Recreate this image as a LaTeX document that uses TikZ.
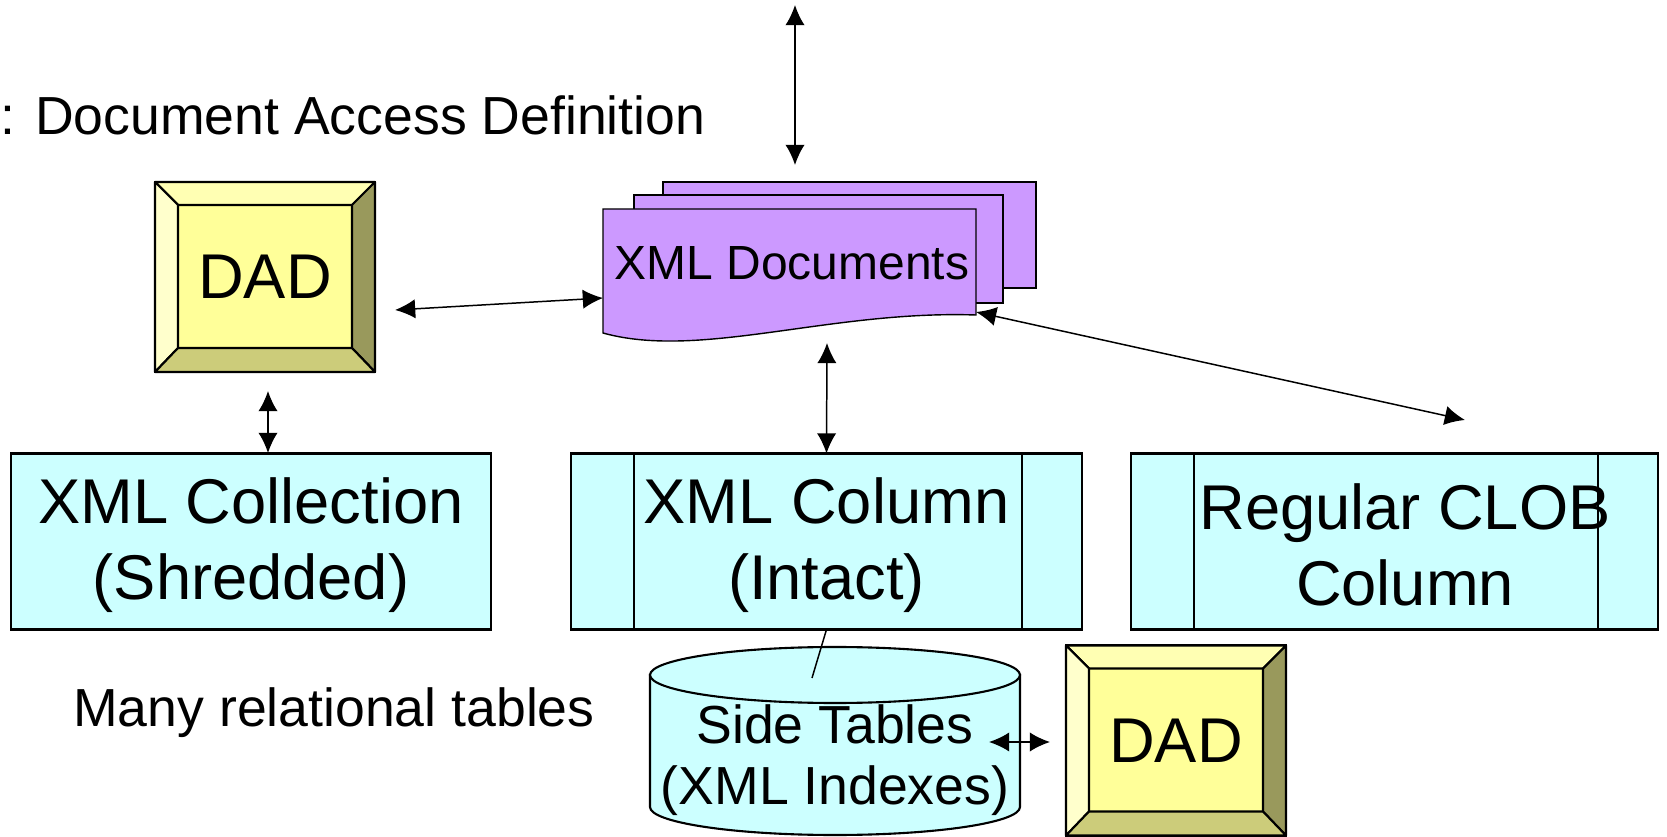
\documentclass[tikz,border=0pt]{standalone}
\usepackage{fontspec}
\setmainfont{Liberation Sans}
\usetikzlibrary{arrows.meta}
\tikzset{>={Latex[length=11.5pt,width=11pt]}}

\definecolor{dadface}{HTML}{FFFF99}
\definecolor{dadtop}{HTML}{FFFFB3}
\definecolor{dadleft}{HTML}{FFFFCC}
\definecolor{dadbottom}{HTML}{CCCC7A}
\definecolor{dadright}{HTML}{99995C}
\definecolor{storefill}{HTML}{CCFFFF}
\definecolor{docfill}{HTML}{CC99FF}

\begin{document}
\begin{tikzpicture}[x=0.02cm, y=-0.02cm]
	\tikzstyle{dad} = [draw=black, line width=1.2pt, fill=dadface, minimum width=4.4cm, minimum height=3.8cm, outer sep=0pt, font=\fontsize{36}{43}\selectfont]
	\tikzstyle{store} = [draw=black, line width=1.2pt, fill=storefill, minimum height=3.52cm, outer sep=0pt]
	\tikzstyle{storetext} = [align=center, font=\fontsize{36}{43}\selectfont]
	\tikzstyle{page} = [draw=black, line width=0.8pt, fill=docfill]
	\tikzstyle{note} = [inner sep=0pt, font=\fontsize{30.5}{35}\selectfont]
	\tikzstyle{edge} = [<->, line width=0.85pt]

	\useasboundingbox (0,0) rectangle (1667,837);

%----------DAD and the XML documents------------------------------
	\node[note, anchor=base west] (daddef) at (0,135) {: Document Access Definition};

	\node[dad] (dad1) at (265,277) {DAD};

	\draw[page] (663,182) rectangle (1036,288);
	\draw[page] (634,195) rectangle (1003,303);
	\draw[page] (603,209) -- (976,209) -- (976,315)
		.. controls (830,310) and (700,360) .. (603,333) -- cycle;
	\node[anchor=base, inner sep=0pt, font=\fontsize{27.3}{32}\selectfont] (docs) at (792,280) {XML Documents};

	\coordinate (topend) at (795,5);
	\coordinate (docsN) at (795,165);
	\coordinate (docsW) at (603,298);
	\coordinate (docsE) at (976,312);
	\coordinate (docsS) at (827,343);
	\coordinate (dad1E) at (395,310);
	\coordinate (dad1S) at (268,391);

%----------the three ways to store------------------------------
	\node[store, minimum width=9.6cm] (coll) at (251,541.5) {};
	\node[store, minimum width=10.22cm] (xcol) at (826.5,541.5) {};
	\node[store, minimum width=10.54cm] (clob) at (1394.5,541.5) {};

	\foreach \b in {xcol,clob}{
		\draw[line width=1.2pt] ([shift={(63,0)}]\b.north west) -- ([shift={(63,0)}]\b.south west);
		\draw[line width=1.2pt] ([shift={(-60,0)}]\b.north east) -- ([shift={(-60,0)}]\b.south east);
	}

	\node[storetext] (colltext) at (251,545) {XML Collection\\(Shredded)};
	\node[storetext] (xcoltext) at (826.5,545) {XML Column\\(Intact)};
	\node[storetext] (clobtext) at (1405,545) {Regular CLOB\\Column};

	\coordinate (collN) at (268,453);
	\coordinate (clobN) at (1465,420);

%----------side tables------------------------------
	\node[note, anchor=base west] (many) at (73,726) {Many relational tables};

	\filldraw[fill=storefill, line width=1.2pt] (650,675) -- (650,807)
		arc[start angle=180, end angle=0, x radius=185, y radius=28] -- (1020,675) -- cycle;
	\filldraw[fill=storefill, line width=1.2pt] (835,675) ellipse[x radius=185, y radius=28];
	\node[note, align=center] (side) at (835,760) {Side Tables\\(XML Indexes)};

	\node[dad] (dad2) at (1176,740.5) {DAD};

	\coordinate (sideTop) at (812,678);
	\coordinate (sideE) at (989,742);
	\coordinate (dad2W) at (1050,742);

%----------bevels------------------------------
	\foreach \d in {dad1,dad2}{
		\filldraw[fill=dadtop, line width=1.2pt, line join=round] (\d.north west) -- (\d.north east) -- ([shift={(-23,23)}]\d.north east) -- ([shift={(23,23)}]\d.north west) -- cycle;
		\filldraw[fill=dadleft, line width=1.2pt, line join=round] (\d.north west) -- ([shift={(23,23)}]\d.north west) -- ([shift={(23,-24)}]\d.south west) -- (\d.south west) -- cycle;
		\filldraw[fill=dadright, line width=1.2pt, line join=round] (\d.north east) -- ([shift={(-23,23)}]\d.north east) -- ([shift={(-23,-24)}]\d.south east) -- (\d.south east) -- cycle;
		\filldraw[fill=dadbottom, line width=1.2pt, line join=round] (\d.south west) -- ([shift={(23,-24)}]\d.south west) -- ([shift={(-23,-24)}]\d.south east) -- (\d.south east) -- cycle;
	}

%----------connectors------------------------------
	\path[edge] (topend) edge (docsN);
	\path[edge] (dad1E) edge (docsW);
	\path[edge] (dad1S) edge (collN);
	\path[edge] (docsS) edge (xcol.north);
	\path[edge] (docsE) edge (clobN);
	\path[edge] (sideE) edge (dad2W);

	\draw[line width=0.85pt] (xcol.south) -- (sideTop);
\end{tikzpicture}
\end{document}
